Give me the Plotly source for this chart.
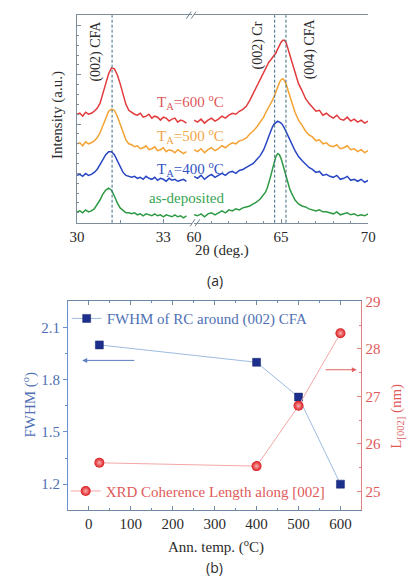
import plotly.graph_objects as go

W, H = 417, 579

# ---------------- (a) XRD patterns ----------------
# low-angle window around (002) CFA
two_theta_low = [30.0, 30.1, 30.2, 30.3, 30.4, 30.5, 30.6, 30.7, 30.8, 30.9,
                 31.0, 31.1, 31.2, 31.3, 31.4, 31.5, 31.6, 31.7, 31.8, 31.9,
                 32.0, 32.1, 32.2, 32.3, 32.4, 32.5, 32.6, 32.7, 32.8, 32.9,
                 33.0, 33.1, 33.2, 33.3, 33.4, 33.5, 33.6, 33.7, 33.8]
int_low_600 = [110, 111, 108, 112, 110, 111, 113, 116, 121, 130,
               141, 151, 157, 156, 150, 141, 130, 120, 114, 112,
               110, 109, 111, 107, 108, 110, 106, 108, 107, 104,
               107, 106, 103, 105, 106, 102, 104, 103, 101]
int_low_500 = [80, 81, 78, 82, 80, 81, 83, 86, 91, 99,
               107, 113, 115, 114, 108, 100, 91, 84, 80, 79,
               77, 78, 75, 76, 78, 74, 75, 77, 73, 74,
               76, 72, 74, 73, 71, 74, 72, 70, 72]
int_low_400 = [48, 49, 47, 50, 48, 49, 51, 54, 59, 64,
               69, 72, 72, 69, 63, 56, 51, 48, 47, 46,
               47, 45, 46, 44, 47, 45, 44, 46, 43, 45,
               44, 42, 45, 43, 44, 42, 43, 44, 42]
int_low_asdep = [11, 12, 10, 13, 11, 12, 14, 18, 23, 29,
                 33, 35, 33, 27, 20, 15, 12, 10, 10, 9,
                 10, 8, 9, 7, 9, 8, 7, 9, 7, 8,
                 6, 8, 7, 6, 8, 6, 7, 5, 7]

# high-angle window around (002) Cr / (004) CFA
two_theta_high = [60.0, 60.2, 60.4, 60.6, 60.8, 61.0, 61.2, 61.4, 61.6, 61.8,
                  62.0, 62.2, 62.4, 62.6, 62.8, 63.0, 63.2, 63.4, 63.6, 63.8,
                  64.0, 64.1, 64.2, 64.3, 64.4, 64.5, 64.6, 64.7, 64.8, 64.9,
                  65.0, 65.1, 65.2, 65.3, 65.4, 65.5, 65.6, 65.7, 65.8, 65.9,
                  66.0, 66.2, 66.4, 66.6, 66.8, 67.0, 67.2, 67.4, 67.6, 67.8,
                  68.0, 68.2, 68.4, 68.6, 68.8, 69.0, 69.2, 69.4, 69.6, 69.8,
                  70.0]
int_high_600 = [104, 102, 105, 101, 104, 106, 103, 105, 108, 106,
                109, 111, 110, 113, 115, 118, 124, 131, 138, 146,
                152, 156, 160, 163, 165, 167, 169, 172, 176, 180,
                183, 185, 185, 182, 176, 169, 163, 157, 151, 146,
                141, 134, 126, 121, 117, 113, 114, 109, 111, 108,
                106, 109, 105, 104, 107, 103, 105, 102, 104, 101,
                103]
int_high_500 = [74, 72, 75, 71, 74, 76, 73, 75, 78, 76,
                79, 81, 80, 83, 84, 86, 90, 93, 97, 102,
                107, 111, 114, 118, 121, 124, 128, 133, 138, 142,
                145, 146, 144, 140, 134, 128, 122, 117, 112, 108,
                104, 99, 93, 89, 87, 83, 84, 80, 81, 78,
                77, 79, 75, 76, 78, 74, 75, 72, 74, 71,
                73]
int_high_400 = [47, 45, 48, 44, 47, 49, 46, 48, 50, 48,
                51, 52, 50, 53, 54, 56, 58, 60, 64, 68,
                74, 78, 83, 88, 93, 97, 100, 102, 103, 102,
                101, 99, 96, 92, 88, 84, 80, 77, 73, 70,
                67, 63, 59, 56, 54, 51, 52, 48, 49, 47,
                46, 48, 44, 45, 47, 43, 44, 42, 44, 41,
                43]
int_high_asdep = [8, 7, 9, 6, 9, 10, 8, 10, 12, 10,
                  13, 12, 14, 13, 15, 16, 17, 19, 21, 24,
                  28, 31, 35, 40, 47, 54, 61, 67, 70, 69,
                  65, 59, 52, 45, 39, 34, 30, 26, 23, 21,
                  19, 17, 16, 14, 13, 12, 13, 11, 11, 10,
                  9, 11, 8, 9, 10, 8, 9, 7, 8, 7,
                  9]

series_labels = ["T<sub>A</sub>=600 <sup>o</sup>C", "T<sub>A</sub>=500 <sup>o</sup>C",
                 "T<sub>A</sub>=400 <sup>o</sup>C", "as-deposited"]
series_colors = ["#e23a3c", "#f4a233", "#2846c4", "#2f9a45"]
label_colors = ["#e0575a", "#f2a648", "#3552c2", "#38a552"]

# reflection positions (deg.)
peak_low = [31.22]
peak_low_names = ["(002) CFA"]
peak_high = [64.63, 65.28]
peak_high_names = ["(002) Cr", "(004) CFA"]

# ---------------- (b) FWHM / coherence length ----------------
ann_temp = [25, 400, 500, 600]
fwhm_rc = [2.0, 1.9, 1.7, 1.2]
coh_length = [25.6, 25.53, 26.8, 28.33]


def px(x):
    return x / W


def py(y):
    return 1 - y / H


serif = "Liberation Serif"
sans = "Open Sans"
fig = go.Figure()

lows = [int_low_600, int_low_500, int_low_400, int_low_asdep]
highs = [int_high_600, int_high_500, int_high_400, int_high_asdep]
for lo, hi, col in zip(lows, highs, series_colors):
    fig.add_trace(go.Scatter(x=two_theta_low, y=lo, mode="lines", xaxis="x", yaxis="y",
                             line=dict(color=col, width=1.5), showlegend=False,
                             hoverinfo="skip"))
    fig.add_trace(go.Scatter(x=two_theta_high, y=hi, mode="lines", xaxis="x2", yaxis="y",
                             line=dict(color=col, width=1.5), showlegend=False,
                             hoverinfo="skip"))

fig.add_trace(go.Scatter(
    x=ann_temp, y=fwhm_rc, mode="lines+markers", xaxis="x3", yaxis="y3",
    name="FWHM of RC around (002) CFA", legend="legend",
    line=dict(color="#9dbbe0", width=1),
    marker=dict(symbol="square", size=8, color="#1d2f8c",
                line=dict(color="#16246e", width=0.5))))
fig.add_trace(go.Scatter(
    x=ann_temp, y=coh_length, mode="lines+markers", xaxis="x3", yaxis="y4",
    name="XRD Coherence Length along [002]", legend="legend2",
    line=dict(color="#f2a7a7", width=1),
    marker=dict(symbol="circle", size=10, color="#d8181c",
                gradient=dict(type="radial", color="#ffb0b0"),
                line=dict(width=0))))

shapes = []
# dashed reflection markers
for x0 in peak_low:
    shapes.append(dict(type="line", xref="x", yref="paper", x0=x0, x1=x0,
                       y0=py(217.7), y1=py(7.3),
                       line=dict(color="#3d6a80", width=1, dash="3px,2px")))
for x0 in peak_high:
    shapes.append(dict(type="line", xref="x2", yref="paper", x0=x0, x1=x0,
                       y0=py(217.7), y1=py(7.3),
                       line=dict(color="#3d6a80", width=1, dash="3px,2px")))
# axis break marks
for (bx, by) in [(190.5, 7.3), (194.5, 217.7)]:
    for dx in (-2.5, 2.5):
        shapes.append(dict(type="line", xref="paper", yref="paper",
                           x0=px(bx + dx - 2.5), y0=py(by + 3.5),
                           x1=px(bx + dx + 2.5), y1=py(by - 3.5),
                           line=dict(color="#6e7f8e", width=1)))


def label(text, x, y, size=15, color="#2b2b2b", family=serif, angle=0):
    return dict(text=text, x=px(x), y=py(y), xref="paper", yref="paper",
                xanchor="center", yanchor="middle", showarrow=False,
                textangle=angle, font=dict(family=family, size=size, color=color))


dark = "#2b2b2b"
ann = []
# reflection labels
for (x, y, t) in [(91.7, 44, peak_low_names[0]), (260, 38, peak_high_names[0]),
                  (315, 41, peak_high_names[1])]:
    ann.append(label(t, x, y, size=14, angle=-90))
# series labels
for (x, y), t, c in zip([(190, 95), (190, 130), (190, 163), (186, 193)],
                        series_labels, label_colors):
    ann.append(label(t, x, y, size=15, color=c))
ann += [
    label("Intensity (a.u.)", 51.5, 109, angle=-90),
    label("2θ (deg.)", 223, 246),
    label("(a)", 215, 276, size=14, family=sans),
    label("FWHM (<sup>o</sup>)", 22, 402, color="#4f70b4", angle=-90),
    label("L<sub>[002]</sub> (nm)", 405, 414, color="#e05a5a", angle=-90),
    label("Ann. temp. (<sup>o</sup>C)", 216, 546),
    label("(b)", 215, 567, size=14, family=sans),
    # arrows pointing to the axis each series belongs to
    dict(text="", x=-16, y=1.911, xref="x3", yref="y3", ax=112, ay=1.911,
         axref="x3", ayref="y3", showarrow=True, arrowhead=2, arrowsize=1,
         arrowwidth=1, arrowcolor="#5b7fc0"),
    dict(text="", x=639, y=27.56, xref="x3", yref="y4", ax=561, ay=27.56,
         axref="x3", ayref="y4", showarrow=True, arrowhead=2, arrowsize=1,
         arrowwidth=1, arrowcolor="#e06262"),
]

frame = "#7d8c99"
tickfont_top = dict(family=serif, size=15, color=dark)

fig.update_layout(
    width=W, height=H, margin=dict(l=0, r=0, t=0, b=0),
    font=dict(family=serif, size=15, color=dark),
    paper_bgcolor="white", plot_bgcolor="rgba(0,0,0,0)",
    shapes=shapes, annotations=ann,
    xaxis=dict(domain=[px(71.7), px(191.5)], range=[30, 34], anchor="y",
               tickvals=[30, 33], ticks="inside", ticklen=4, tickcolor=frame,
               minor=dict(tickvals=[31.5], ticks="inside", ticklen=3, tickcolor=frame),
               showline=True, linecolor=frame, linewidth=1, mirror=True,
               showgrid=False, zeroline=False, tickfont=tickfont_top),
    xaxis2=dict(domain=[px(193.5), px(374.5)], range=[60, 70], anchor="y",
                tickvals=[60, 65, 70], ticks="inside", ticklen=4, tickcolor=frame,
                minor=dict(dtick=1, ticks="inside", ticklen=2, tickcolor=frame),
                showline=True, linecolor=frame, linewidth=1, mirror=True,
                showgrid=False, zeroline=False, tickfont=tickfont_top),
    yaxis=dict(domain=[py(217.7), py(7.3)], range=[0, 210.4], anchor="x",
               showticklabels=False, ticks="inside", ticklen=4, dtick=50, tick0=0,
               tickcolor=frame,
               minor=dict(dtick=10, ticks="inside", ticklen=2, tickcolor=frame),
               showline=True, linecolor=frame, linewidth=1,
               showgrid=False, zeroline=False),
    yaxis2=dict(overlaying="y", anchor="x2", side="right", range=[0, 210.4],
                showticklabels=False, ticks="inside", ticklen=4, dtick=50, tick0=0,
                tickcolor=frame,
                minor=dict(dtick=10, ticks="inside", ticklen=2, tickcolor=frame),
                showline=True, linecolor=frame, linewidth=1,
                showgrid=False, zeroline=False),
    xaxis3=dict(domain=[px(62.3), px(367.5)], range=[-50, 650], anchor="y3",
                tick0=0, dtick=100, ticks="inside", ticklen=4, tickcolor="#6f8aa6",
                minor=dict(dtick=50, ticks="inside", ticklen=2, tickcolor="#6f8aa6"),
                showline=True, linecolor="#6f8aa6", linewidth=1, mirror="ticks",
                showgrid=False, zeroline=False,
                tickfont=dict(family=serif, size=15, color=dark)),
    yaxis3=dict(domain=[py(509.3), py(297.5)], range=[1.05, 2.25], anchor="x3",
                tickvals=[1.2, 1.5, 1.8, 2.1], ticks="outside", ticklen=4,
                tickcolor="#6b8fd0",
                minor=dict(tickvals=[1.35, 1.65, 1.95], ticks="outside", ticklen=2,
                           tickcolor="#6b8fd0"),
                showline=True, linecolor="#6b8fd0", linewidth=1,
                showgrid=False, zeroline=False, tickformat=".1f",
                tickfont=dict(family=serif, size=15, color="#4f70b4")),
    yaxis4=dict(overlaying="y3", anchor="x3", side="right", range=[24.6, 29.0],
                tick0=25, dtick=1, ticks="inside", ticklen=4, tickcolor="#e08080",
                minor=dict(dtick=0.5, ticks="inside", ticklen=2, tickcolor="#e08080"),
                showline=True, linecolor="#e08080", linewidth=1,
                showgrid=False, zeroline=False,
                tickfont=dict(family=serif, size=15, color="#e05a5a")),
    legend=dict(x=px(61), y=py(315), xanchor="left", yanchor="middle",
                bgcolor="rgba(0,0,0,0)", borderwidth=0,
                font=dict(family=serif, size=15, color="#4f70b4")),
    legend2=dict(x=px(60), y=py(490), xanchor="left", yanchor="middle",
                 bgcolor="rgba(0,0,0,0)", borderwidth=0,
                 font=dict(family=serif, size=15, color="#e05a5a")),
)

fig.write_html("out.html")
